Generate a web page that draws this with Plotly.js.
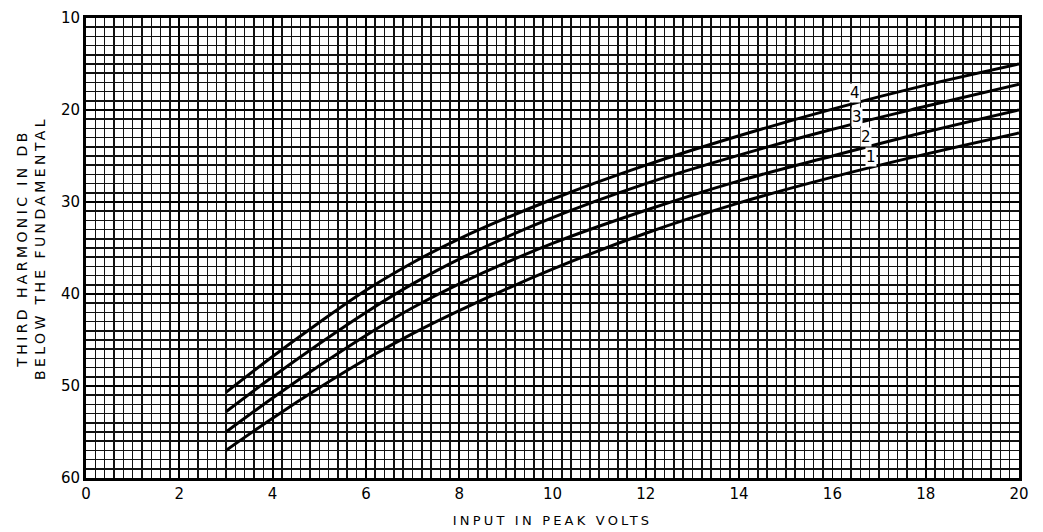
<!DOCTYPE html>
<html>
<head>
<meta charset="utf-8">
<script src="https://cdn.plot.ly/plotly-3.0.1.min.js"></script>
<style>
  html, body { margin: 0; padding: 0; background: #fff; }
  #chart { width: 1043px; height: 532px; }
</style>
</head>
<body>
<div id="chart"></div>
<script>
// Input amplitude (peak volts) at which each curve is sampled
const inputVolts = [3, 4, 5, 6, 7, 8, 10, 12, 14, 16, 18, 20];

// Third-harmonic level, dB below the fundamental, for curves 1-4
const curve1 = [57.0, 53.5, 50.2, 47.1, 44.3, 41.8, 37.3, 33.4, 30.1, 27.3, 24.8, 22.5];
const curve2 = [55.0, 51.3, 47.8, 44.5, 41.5, 38.9, 34.5, 30.9, 27.7, 25.0, 22.4, 20.0];
const curve3 = [52.8, 49.0, 45.4, 42.0, 38.9, 36.2, 31.7, 28.0, 24.9, 22.1, 19.6, 17.2];
const curve4 = [50.7, 46.8, 43.1, 39.6, 36.6, 34.0, 29.7, 26.0, 22.8, 19.9, 17.3, 15.0];

// Curve numbers and where they sit along the curves
const curveLabels = ['1', '2', '3', '4'];
const labelX = [16.83, 16.72, 16.53, 16.48];
const labelY = [25.1, 22.9, 20.8, 18.1];

const seriesList = [curve1, curve2, curve3, curve4];

const traces = seriesList.map((ys, i) => ({
  x: inputVolts,
  y: ys,
  type: 'scatter',
  mode: 'lines',
  line: { color: '#000', width: 3, shape: 'spline', smoothing: 1 },
  name: curveLabels[i],
  hoverinfo: 'x+y'
}));

const tickFont = { family: 'DejaVu Sans, sans-serif', size: 15, color: '#000' };

const annotations = curveLabels.map((t, i) => ({
  x: labelX[i],
  y: labelY[i],
  text: t,
  showarrow: false,
  font: { family: 'DejaVu Sans, sans-serif', size: 15, color: '#000' },
  bgcolor: '#fff',
  borderpad: 0
}));

const layout = {
  width: 1043,
  height: 532,
  margin: { l: 86, r: 24, t: 18, b: 54 },
  paper_bgcolor: '#fff',
  plot_bgcolor: '#fff',
  showlegend: false,
  xaxis: {
    range: [0, 20],
    dtick: 2,
    tick0: 0,
    showgrid: true,
    gridcolor: '#000',
    gridwidth: 1.8,
    zeroline: false,
    showline: true,
    linecolor: '#000',
    linewidth: 3,
    mirror: true,
    ticks: '',
    tickfont: tickFont,
    minor: { dtick: 0.2, showgrid: true, gridcolor: '#111', gridwidth: 1.5 },
    title: {
      text: 'INPUT IN PEAK VOLTS',
      font: { family: 'DejaVu Sans, sans-serif', size: 13, color: '#000' },
      standoff: 14
    }
  },
  yaxis: {
    range: [60, 10],
    dtick: 10,
    tick0: 10,
    showgrid: true,
    gridcolor: '#000',
    gridwidth: 1.8,
    zeroline: false,
    showline: true,
    linecolor: '#000',
    linewidth: 3,
    mirror: true,
    ticks: '',
    tickfont: tickFont,
    minor: { dtick: 1, showgrid: true, gridcolor: '#111', gridwidth: 1.5 },
    title: {
      text: 'THIRD HARMONIC IN DB<br>BELOW THE FUNDAMENTAL',
      font: { family: 'DejaVu Sans, sans-serif', size: 14, color: '#000' },
      standoff: 12
    }
  },
  annotations: annotations
};

Plotly.newPlot('chart', traces, layout, { displayModeBar: false, staticPlot: true })
  .then(() => {
    // Spaced-out lettering for the axis titles
    document.querySelectorAll('.xtitle').forEach(el => el.setAttribute('letter-spacing', '3.2'));
    document.querySelectorAll('.ytitle').forEach(el => el.setAttribute('letter-spacing', '3.4'));
  });
</script>
</body>
</html>
